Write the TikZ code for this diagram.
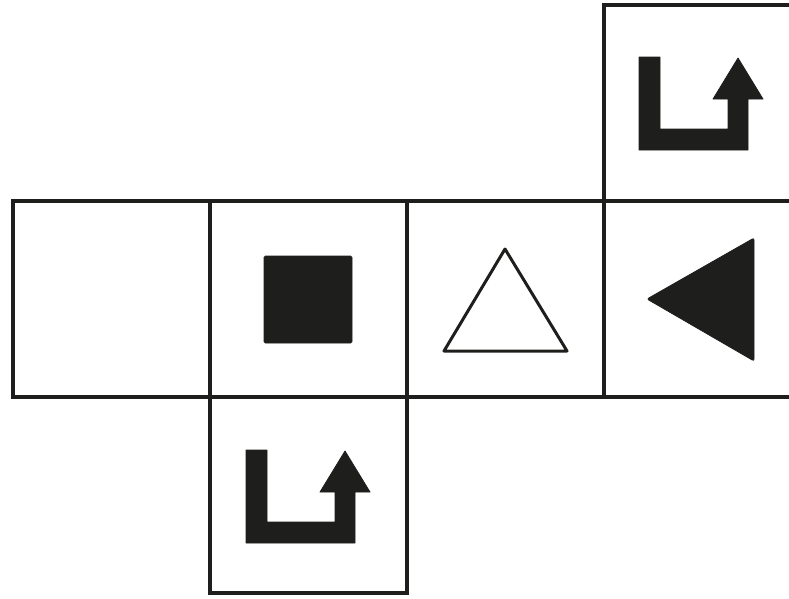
\documentclass[tikz,border=0pt]{standalone}
\definecolor{dunkel}{HTML}{1E1E1C}
\tikzset{
  rahmen/.style={draw=dunkel, line width=4pt, line join=miter},
  vollform/.style={fill=dunkel, draw=dunkel, line width=0.8pt, line join=round},
  leerform/.style={draw=dunkel, line width=3pt, line join=round}
}
\begin{document}
\begin{tikzpicture}[x=1pt,y=-1pt]

  \useasboundingbox (0,0) rectangle (789,598);
  \clip (0,0) rectangle (789,598);

  % obere Zelle
  \draw[rahmen]
    (604,201) --
    (604,5) --
    (800,5) --
    (800,201);

  % mittlere Reihe
  \draw[rahmen] (13,201) rectangle (800,397);
  \draw[rahmen] (210,201) -- (210,397);
  \draw[rahmen] (407,201) -- (407,397);
  \draw[rahmen] (604,201) -- (604,397);

  % untere Zelle
  \draw[rahmen]
    (210,397) --
    (210,593) --
    (407,593) --
    (407,397);

  % Pfeile (oben rechts und unten)
  \foreach \dx/\dy in {0/0, -393/393}
    \draw[vollform, shift={(\dx,\dy)}]
      (639,57) --
      (660,57) --
      (660,129) --
      (728,129) --
      (728,99) --
      (713,99) --
      (738,58) --
      (763,99) --
      (748,99) --
      (748,150) --
      (639,150) --
      cycle;

  % gefuelltes Quadrat
  \draw[vollform, rounded corners=1.5pt] (264,256) rectangle (352,343);

  % offenes Dreieck
  \draw[leerform]
    (505,249) --
    (567,351) --
    (444,351) --
    cycle;

  % gefuelltes Dreieck nach links
  \draw[vollform, rounded corners=2pt]
    (647,299) --
    (754,238) --
    (754,361) --
    cycle;

\end{tikzpicture}
\end{document}
